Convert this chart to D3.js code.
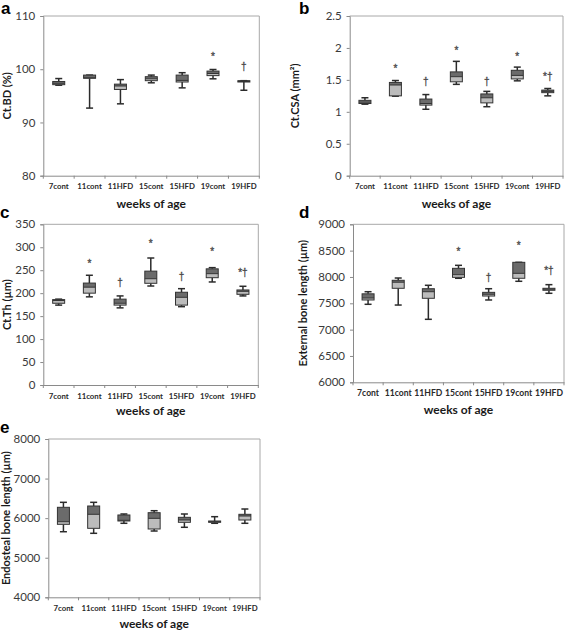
<!DOCTYPE html>
<html><head><meta charset="utf-8">
<script src="https://cdn.jsdelivr.net/npm/d3@7"></script>
<style>body{margin:0;background:#fff}svg{display:block}</style>
</head><body>
<svg id="c" width="567" height="631"></svg>
<script>
// ---- data ----
const categories = ["7cont","11cont","11HFD","15cont","15HFD","19cont","19HFD"];
// each entry: [min, q1, median, q3, max]
const ctBD = [[97.0,97.1,97.35,97.7,98.25],[92.7,98.3,98.4,98.9,98.9],[93.5,96.2,96.85,97.2,98.05],[97.45,97.85,98.2,98.6,98.9],[96.5,97.6,97.9,98.9,99.35],[98.2,98.8,99.2,99.65,99.95],[96.05,97.6,97.7,97.85,97.85]];
const ctBDMarks = ["","","","","","*","†"];
const ctBDMarkVal = [null,null,null,null,null,102.3,100.4];

const ctCSA = [[1.12,1.13,1.15,1.18,1.22],[1.245,1.25,1.42,1.46,1.49],[1.04,1.105,1.13,1.2,1.27],[1.43,1.47,1.55,1.625,1.79],[1.08,1.14,1.22,1.28,1.32],[1.485,1.515,1.57,1.65,1.70],[1.25,1.30,1.32,1.34,1.365]];
const ctCSAMarks = ["","*","†","*","†","*","*†"];
const ctCSAMarkVal = [null,1.66,1.46,1.94,1.46,1.85,1.54];

const ctTh = [[174,178,184,186,187],[192,200,213,222,239],[168,174,178,187,194],[215.6,221.5,231.5,248,276.6],[170.6,174,191,202,209.8],[224.4,233.7,242.5,253,255.6],[194,197.5,204,207,215]];
const ctThMarks = ["","*","†","*","†","*","*†"];
const ctThMarkVal = [null,262,221,307,235,289,243];

const extLen = [[7481,7563,7600,7680,7720],[7467,7785,7900,7937,7980],[7196,7595,7720,7777,7842],[7975,7993,8043,8164,8221],[7563,7638,7671,7708,7777],[7918,7975,8069,8278,8278],[7690,7747,7766,7785,7854]];
const extLenMarks = ["","","","*","†","*","*†"];
const extLenMarkVal = [null,null,null,8460,7970,8590,8100];

const endoLen = [[5657,5844,5910,6274,6400],[5617,5743,6097,6307,6400],[5870,5928,5945,6080,6105],[5675,5726,5995,6138,6188],[5769,5895,5953,6021,6105],[5870,5895,5910,5928,6037],[5870,5953,6054,6097,6231]];
const endoLenMarks = ["","","","","","",""];
const endoLenMarkVal = [null,null,null,null,null,null,null];

const ticksBD = [80,90,100,110];
const ticksCSA = [0,0.5,1,1.5,2,2.5];
const ticksTh = [0,50,100,150,200,250,300,350];
const ticksExt = [6000,6500,7000,7500,8000,8500,9000];
const ticksEndo = [4000,5000,6000,7000,8000];

// ---- drawing ----
const svg = d3.select("#c");
const FONT = "Lato, 'Open Sans', sans-serif";

function panel(o){
  const g = svg.append("g");
  const x = d3.scaleBand().domain(categories).range([o.l, o.r]).padding(0);
  const y = d3.scaleLinear().domain(o.domain).range([o.b, o.t]);
  g.append("path").attr("d",`M${o.l},${o.t}H${o.r}V${o.b}`).attr("fill","none").attr("stroke","#a8a8a8").attr("stroke-width",1);
  const ya = d3.axisLeft(y).tickValues(o.ticks).tickSize(3).tickPadding(5).tickFormat(d=>String(d));
  const yg = g.append("g").attr("transform",`translate(${o.l},0)`).call(ya);
  yg.select(".domain").attr("stroke","#8a8a8a");
  yg.selectAll(".tick line").attr("stroke","#8a8a8a");
  yg.selectAll("text").attr("font-family",FONT).attr("font-size",11.5).attr("fill","#3a3a3a");
  const xa = d3.axisBottom(x).tickSize(0).tickPadding(8);
  const xg = g.append("g").attr("transform",`translate(0,${o.b})`).call(xa);
  xg.select(".domain").attr("stroke","#8a8a8a");
  xg.selectAll("text").attr("font-family",FONT).attr("font-size",o.catSize||7.8).attr("font-weight","bold").attr("fill","#2a2a2a");
  const bounds = categories.map(c=>x(c)).concat([x.range()[1]]);
  g.selectAll(".bt").data(bounds).join("line").attr("x1",d=>d).attr("x2",d=>d).attr("y1",o.b).attr("y2",o.b+3).attr("stroke","#8a8a8a");
  const bw = 12, cw = 7;
  o.data.forEach((s,i)=>{
    const cx = x(categories[i]) + x.bandwidth()/2;
    const [mn,q1,md,q3,mx] = s;
    const bg = g.append("g");
    bg.append("line").attr("x1",cx).attr("x2",cx).attr("y1",y(mx)).attr("y2",y(q3)).attr("stroke","#2b2b2b").attr("stroke-width",1.5);
    bg.append("line").attr("x1",cx).attr("x2",cx).attr("y1",y(q1)).attr("y2",y(mn)).attr("stroke","#2b2b2b").attr("stroke-width",1.5);
    bg.append("line").attr("x1",cx-cw/2).attr("x2",cx+cw/2).attr("y1",y(mx)).attr("y2",y(mx)).attr("stroke","#2b2b2b").attr("stroke-width",1.5);
    bg.append("line").attr("x1",cx-cw/2).attr("x2",cx+cw/2).attr("y1",y(mn)).attr("y2",y(mn)).attr("stroke","#2b2b2b").attr("stroke-width",1.5);
    bg.append("rect").attr("x",cx-bw/2).attr("width",bw).attr("y",y(md)).attr("height",Math.max(0,y(q1)-y(md))).attr("fill","#bcbcbc");
    bg.append("rect").attr("x",cx-bw/2).attr("width",bw).attr("y",y(q3)).attr("height",Math.max(0,y(md)-y(q3))).attr("fill","#6b6b6b");
    bg.append("rect").attr("x",cx-bw/2).attr("width",bw).attr("y",y(q3)).attr("height",Math.max(0.5,y(q1)-y(q3))).attr("fill","none").attr("stroke","#333").attr("stroke-width",1);
    bg.append("line").attr("x1",cx-bw/2).attr("x2",cx+bw/2).attr("y1",y(md)).attr("y2",y(md)).attr("stroke","#333").attr("stroke-width",1);
    if(o.marks[i]){
      g.append("text").attr("x",cx).attr("y",y(o.markVal[i])).attr("text-anchor","middle").attr("dominant-baseline","middle")
        .attr("font-family","'Liberation Sans', Arial, sans-serif").attr("font-size",10).attr("fill","#4a4a4a")
        .attr("stroke","#4a4a4a").attr("stroke-width",0.3).text(o.marks[i]);
    }
  });
  g.append("text").attr("transform",`translate(${o.ytx},${(o.t+o.b)/2}) rotate(-90)`).attr("text-anchor","middle").attr("dominant-baseline","middle")
    .attr("font-family",FONT).attr("font-size",11).attr("font-weight","bold").attr("fill","#1a1a1a").text(o.ytitle);
  g.append("text").attr("x",(o.l+o.r)/2).attr("y",o.xty).attr("text-anchor","middle").attr("dominant-baseline","middle")
    .attr("font-family",FONT).attr("font-size",12).attr("font-weight","bold").attr("fill","#1a1a1a").text("weeks of age");
  svg.append("text").attr("x",o.lx).attr("y",o.ly).attr("font-family","'Liberation Sans', Arial, sans-serif").attr("font-size",17).attr("font-weight","bold").text(o.letter);
}

panel({l:43.3,r:259.3,t:16,b:175.7,domain:[80,110],ticks:ticksBD,data:ctBD,marks:ctBDMarks,markVal:ctBDMarkVal,ytitle:"Ct.BD (%)",ytx:8,xty:205,letter:"a",lx:1,ly:14});
panel({l:349.7,r:563,t:16,b:175.7,domain:[0,2.5],ticks:ticksCSA,data:ctCSA,marks:ctCSAMarks,markVal:ctCSAMarkVal,ytitle:"Ct.CSA (mm²)",ytx:296,xty:205,letter:"b",lx:299,ly:14});
panel({l:43.3,r:258.3,t:224.3,b:385,domain:[0,350],ticks:ticksTh,data:ctTh,marks:ctThMarks,markVal:ctThMarkVal,ytitle:"Ct.Th (µm)",ytx:8,xty:412,letter:"c",lx:0,ly:218});
panel({l:353,r:564,t:224.3,b:382.3,domain:[6000,9000],ticks:ticksExt,data:extLen,marks:extLenMarks,markVal:extLenMarkVal,ytitle:"External bone length (µm)",ytx:304,xty:411,letter:"d",lx:299,ly:218,catSize:8.6});
panel({l:48.3,r:260,t:439,b:597.3,domain:[4000,8000],ticks:ticksEndo,data:endoLen,marks:endoLenMarks,markVal:endoLenMarkVal,ytitle:"Endosteal bone length (µm)",ytx:7,xty:625,letter:"e",lx:0,ly:433});
</script>
</body></html>
